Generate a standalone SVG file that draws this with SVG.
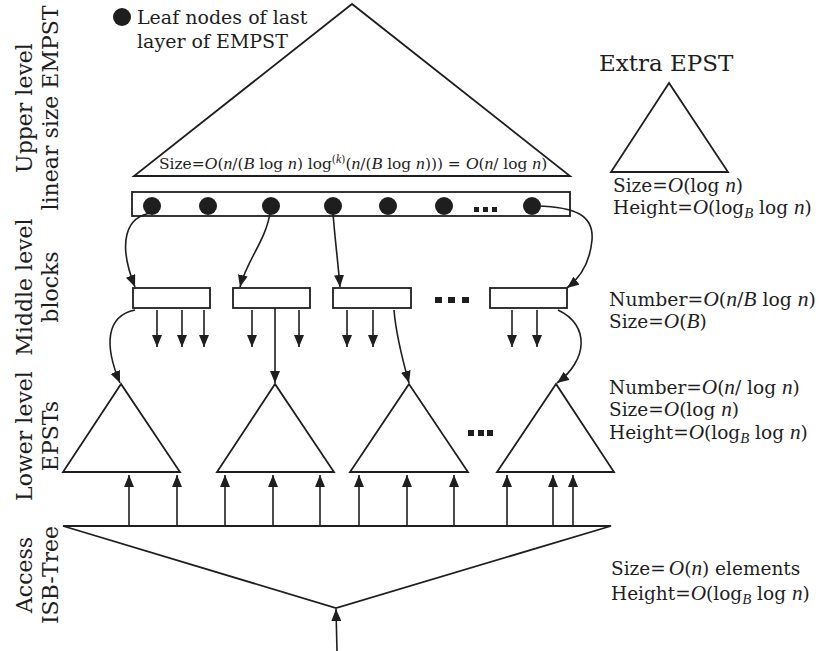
<svg xmlns="http://www.w3.org/2000/svg" width="823" height="651" viewBox="0 0 823 651">
<style>
  .ln{fill:none;stroke:#1e1e1e;stroke-width:1.8;stroke-linejoin:miter}
  .box{fill:#fff;stroke:#1e1e1e;stroke-width:1.8}
  .dot{fill:#1e1e1e}
  .ar{fill:none;stroke:#1e1e1e;stroke-width:1.6;marker-end:url(#ah)}
  .t{font-family:"DejaVu Serif",serif;fill:#1e1e1e}
  .v{font-family:"Liberation Serif",serif;font-style:italic;font-size:1.15em}
  .s{font-size:.8em}
  .sup{font-size:.68em}
  .lab{font-family:"DejaVu Serif",serif;font-size:22px;fill:#1e1e1e;text-anchor:middle}
</style>
<defs>
  <marker id="ah" markerUnits="userSpaceOnUse" markerWidth="12" markerHeight="10" refX="12" refY="5" orient="auto">
    <path d="M0,0L12,5L0,10z" fill="#1e1e1e"/>
  </marker>
</defs>
<rect width="823" height="651" fill="#fff"/>

<!-- level captions on the left -->
<g id="level-captions">
  <text class="lab" transform="translate(32,108) rotate(-90)">Upper level</text>
  <text class="lab" transform="translate(58,108) rotate(-90)">linear size EMPST</text>
  <text class="lab" transform="translate(32,287) rotate(-90)">Middle level</text>
  <text class="lab" transform="translate(58,287) rotate(-90)">blocks</text>
  <text class="lab" transform="translate(32,436) rotate(-90)">Lower level</text>
  <text class="lab" transform="translate(58,436) rotate(-90)">EPSTs</text>
  <text class="lab" transform="translate(32,575) rotate(-90)">Access</text>
  <text class="lab" transform="translate(58,575) rotate(-90)">ISB-Tree</text>
</g>

<!-- legend -->
<g id="legend">
  <circle class="dot" cx="122" cy="17" r="9"/>
  <text class="t" x="137" y="24" font-size="19">Leaf nodes of last</text>
  <text class="t" x="137" y="48" font-size="19">layer of EMPST</text>
</g>

<!-- upper EMPST -->
<g id="upper-empst">
  <polygon class="ln" points="352,4 134,176 570,176"/>
  <text class="t" x="159" y="169" font-size="15.4">Size=<tspan class="v">O</tspan>(<tspan class="v">n</tspan>/(<tspan class="v">B</tspan> log <tspan class="v">n</tspan>) log<tspan class="sup" dy="-6">(<tspan class="v">k</tspan>)</tspan><tspan dy="6">(</tspan><tspan class="v">n</tspan>/(<tspan class="v">B</tspan> log <tspan class="v">n</tspan>))) = <tspan class="v">O</tspan>(<tspan class="v">n</tspan>/ log <tspan class="v">n</tspan>)</text>
</g>

<!-- leaf layer of the EMPST -->
<g id="leaf-row">
  <rect class="box" x="132" y="192" width="438" height="24"/>
  <circle class="dot" cx="152" cy="206" r="9"/>
  <circle class="dot" cx="208" cy="206" r="9"/>
  <circle class="dot" cx="271" cy="206" r="9"/>
  <circle class="dot" cx="333" cy="206" r="9"/>
  <circle class="dot" cx="388" cy="206" r="9"/>
  <circle class="dot" cx="444" cy="206" r="9"/>
  <circle class="dot" cx="532" cy="206" r="9"/>
  <rect class="dot" x="474" y="207" width="5" height="5"/>
  <rect class="dot" x="483" y="207" width="5" height="5"/>
  <rect class="dot" x="492" y="207" width="5" height="5"/>
</g>

<!-- extra EPST -->
<g id="extra-epst">
  <text class="t" x="599" y="71" font-size="23">Extra EPST</text>
  <polygon class="ln" points="669,83 611,172 728,172"/>
  <text class="t" x="613" y="192" font-size="18.5">Size=<tspan class="v">O</tspan>(log <tspan class="v">n</tspan>)</text>
  <text class="t" x="613" y="214" font-size="18.5">Height=<tspan class="v">O</tspan>(log<tspan class="v s" dy="4">B</tspan><tspan dy="-4"> log </tspan><tspan class="v">n</tspan>)</text>
</g>

<!-- middle level blocks -->
<g id="block-1"><rect class="box" x="133" y="288" width="77" height="20"/></g>
<g id="block-2"><rect class="box" x="233" y="288" width="77" height="20"/></g>
<g id="block-3"><rect class="box" x="333" y="288" width="78" height="20"/></g>
<g id="block-4"><rect class="box" x="490" y="288" width="77" height="20"/></g>
<g id="block-gap">
  <rect class="dot" x="435" y="297" width="7" height="6"/>
  <rect class="dot" x="448" y="297" width="7" height="6"/>
  <rect class="dot" x="462" y="297" width="7" height="6"/>
</g>
<g id="block-info">
  <text class="t" x="609" y="306" font-size="18.8">Number=<tspan class="v">O</tspan>(<tspan class="v">n</tspan>/<tspan class="v">B</tspan> log <tspan class="v">n</tspan>)</text>
  <text class="t" x="609" y="328" font-size="18.5">Size=<tspan class="v">O</tspan>(<tspan class="v">B</tspan>)</text>
</g>

<!-- lower level EPSTs -->
<g id="epst-1"><polygon class="ln" points="121,384 63,472 180,472"/></g>
<g id="epst-2"><polygon class="ln" points="275,384 217,472 334,472"/></g>
<g id="epst-3"><polygon class="ln" points="409,384 350,472 468,472"/></g>
<g id="epst-4"><polygon class="ln" points="556,384 497,472 614,472"/></g>
<g id="epst-gap">
  <rect class="dot" x="468" y="430" width="6" height="6"/>
  <rect class="dot" x="478" y="430" width="6" height="6"/>
  <rect class="dot" x="487" y="430" width="6" height="6"/>
</g>
<g id="epst-info">
  <text class="t" x="609" y="394" font-size="18.5">Number=<tspan class="v">O</tspan>(<tspan class="v">n</tspan>/ log <tspan class="v">n</tspan>)</text>
  <text class="t" x="609" y="416" font-size="18.5">Size=<tspan class="v">O</tspan>(log <tspan class="v">n</tspan>)</text>
  <text class="t" x="609" y="439" font-size="18.5">Height=<tspan class="v">O</tspan>(log<tspan class="v s" dy="4">B</tspan><tspan dy="-4"> log </tspan><tspan class="v">n</tspan>)</text>
</g>

<!-- access ISB-tree -->
<g id="isb-tree">
  <polygon class="ln" points="63,526 611,526 336,608"/>
  <text class="t" x="611" y="575" font-size="18.5">Size=<tspan class="v" dx="3">O</tspan>(<tspan class="v">n</tspan>) elements</text>
  <text class="t" x="611" y="600" font-size="18.5">Height=<tspan class="v">O</tspan>(log<tspan class="v s" dy="4">B</tspan><tspan dy="-4"> log </tspan><tspan class="v">n</tspan>)</text>
</g>

<!-- connectors -->
<g id="connectors">
  <!-- leaves to blocks -->
  <path class="ar" d="M152,213 C126,216 117,242 135,287"/>
  <path class="ar" d="M270,213 C266,240 246,262 240,287"/>
  <path class="ar" d="M333,213 C335,240 338,262 340,287"/>
  <path class="ar" d="M537,206 C575,207 594,215 592,240 C590,262 580,278 567,288"/>
  <!-- block fan-out -->
  <path class="ar" d="M157,310 L157,347"/>
  <path class="ar" d="M182,310 L182,347"/>
  <path class="ar" d="M204,310 L204,347"/>
  <path class="ar" d="M252,310 L252,347"/>
  <path class="ar" d="M299,310 L299,347"/>
  <path class="ar" d="M347,310 L347,347"/>
  <path class="ar" d="M373,310 L373,347"/>
  <path class="ar" d="M512,310 L512,347"/>
  <path class="ar" d="M537,310 L537,347"/>
  <!-- blocks to EPST roots -->
  <path class="ar" d="M135,310 C106,316 104,345 120,383"/>
  <path class="ar" d="M275,308 L275,383"/>
  <path class="ar" d="M394,310 C396,335 402,358 409,383"/>
  <path class="ar" d="M558,310 C590,325 588,360 557,383"/>
  <!-- ISB-tree leaves to EPSTs -->
  <path class="ar" d="M129,526 L129,475"/>
  <path class="ar" d="M177,526 L177,475"/>
  <path class="ar" d="M225,526 L225,475"/>
  <path class="ar" d="M273,526 L273,475"/>
  <path class="ar" d="M320,526 L320,475"/>
  <path class="ar" d="M359,526 L359,475"/>
  <path class="ar" d="M407,526 L407,475"/>
  <path class="ar" d="M454,526 L454,475"/>
  <path class="ar" d="M507,526 L507,475"/>
  <path class="ar" d="M553,526 L553,475"/>
  <path class="ar" d="M573,526 L573,475"/>
  <!-- query entry -->
  <path class="ar" d="M337,651 L336,609"/>
</g>
</svg>
